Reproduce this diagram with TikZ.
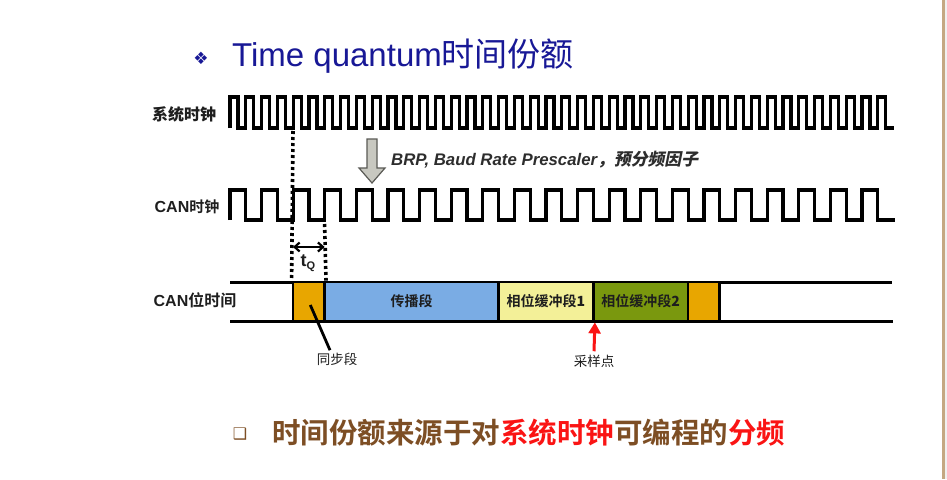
\documentclass[tikz,border=0pt]{standalone}
\usepackage{fontspec}
\setmainfont{Liberation Sans}
\newfontfamily\cjk{Noto Sans CJK SC}[BoldFont={Noto Sans CJK SC Bold}]
\newfontfamily\cjkb{Noto Sans CJK SC Bold}
\newfontfamily\cjksl{Noto Sans CJK SC Bold}[FakeSlant=0.2]
\newfontfamily\symf{DejaVu Sans}
\usetikzlibrary{arrows.meta,calc}

\definecolor{navyC}{RGB}{24,24,150}
\definecolor{inkC}{RGB}{30,30,30}
\definecolor{greyT}{RGB}{45,45,45}
\definecolor{syncC}{RGB}{232,166,0}
\definecolor{propC}{RGB}{122,172,228}
\definecolor{ph1C}{RGB}{243,240,152}
\definecolor{ph2C}{RGB}{122,152,14}
\definecolor{brownC}{RGB}{125,78,36}
\definecolor{redC}{RGB}{250,20,20}
\definecolor{tanC}{RGB}{196,168,130}
\definecolor{arrowFill}{RGB}{200,200,192}
\definecolor{arrowEdge}{RGB}{90,90,85}

\newcommand{\fs}[1]{\fontsize{#1}{#1}\selectfont}

\tikzset{
  clk/.style={line width=3.2pt, line join=miter, draw=black},
  dotline/.style={line width=3.6pt, dash pattern=on 3pt off 3pt},
  rowline/.style={line width=3pt, draw=black},
  seg/.style={draw=black, line width=2.8pt, minimum height=39pt, inner sep=0pt,
              text=inkC, font=\cjkb\fs{14}},
  sidelab/.style={text=inkC, font=\bfseries\fs{16}},
  smalllab/.style={text=inkC, font=\cjk\fs{13.5}},
}

\begin{document}
\begin{tikzpicture}[x=1pt,y=-1pt]
  \useasboundingbox (0,0) rectangle (947,479);
  \fill[white] (0,0) rectangle (947,479);
  % slide edge on the right
  \fill[tanC] (942,0) rectangle (945,479);
  \fill[black!6] (945,0) rectangle (947,479);

  % heading
  \node[text=navyC, font=\symf\fs{17}] (tbullet) at (201,58) {❖};
  \node[anchor=base west, inner sep=0pt, text=navyC, font=\fs{33}] (title) at (232,66)
    {Time quantum{\cjk 时间份额}};

  % row labels
  \node[sidelab] (sysl) at (184,114) {\cjkb 系统时钟};
  \node[sidelab] (canl) at (187,207) {CAN{\cjk\fs{15}时钟}};
  \node[sidelab] (bitl) at (195,300) {CAN{\cjk\fs{16}位时间}};

  % system clock: period 15.8
  \draw[clk] (230,128)
    \foreach \k in {0,...,41} {
      -- ({230+15.8*\k},97) -- ({237.9+15.8*\k},97)
      -- ({237.9+15.8*\k},128) -- ({245.8+15.8*\k},128)
    };

  % CAN clock: period 31.6 (two system clocks)
  \draw[clk] (230,220)
    \foreach \k in {0,...,20} {
      -- ({230+31.6*\k},190) -- ({245.8+31.6*\k},190)
      -- ({245.8+31.6*\k},220) -- ({261.6+31.6*\k},220)
    } -- (895,220);

  % prescaler arrow
  \draw[fill=arrowFill, draw=arrowEdge, line width=1.2pt, line join=miter]
    (367,139) -- (377,139) -- (377,168) -- (385,168) -- (372,183)
    -- (359,168) -- (367,168) -- cycle;
  \node[anchor=west, inner sep=0pt, text=greyT, font=\bfseries\itshape\fs{16.8}] (brp) at (391,160)
    {BRP, Baud Rate Prescaler{\cjksl\fs{16.8}，预分频因子}};

  % bit time row
  \coordinate (rowTL) at (230,282);
  \coordinate (rowTR) at (892,282);
  \coordinate (rowBL) at (230,321);
  \coordinate (rowBR) at (893,321);
  \draw[rowline] (rowTL) -- (rowTR);
  \draw[rowline] (rowBL) -- (rowBR);

  \node[seg, fill=syncC, minimum width=31.6pt] (sync) at (308.8,301.5) {};
  \node[seg, fill=propC, minimum width=173.9pt] (prop) at (411.55,301.5) {传播段};
  \node[seg, fill=ph1C, minimum width=95pt] (ph1) at (546,301.5) {相位缓冲段{\bfseries 1}};
  \node[seg, fill=ph2C, minimum width=94.5pt] (ph2) at (640.75,301.5) {相位缓冲段{\bfseries 2}};
  \node[seg, fill=syncC, minimum width=31.5pt] (sync2) at (703.75,301.5) {};

  % one time quantum
  \coordinate (q1top) at (293,131);
  \coordinate (q2top) at (324.6,224);
  \draw[dotline] (q1top) -- (sync.north west);
  \draw[dotline] (q2top) -- (sync.north east);
  \coordinate (qa) at (293,247);
  \coordinate (qb) at (324.6,247);
  \draw[line width=2.2pt, {Straight Barb[length=5pt,width=9pt]}-{Straight Barb[length=5pt,width=9pt]}] (qa) -- (qb);
  \node[text=inkC, font=\bfseries\fs{18}] (tq) at (308,263) {t\raisebox{-0.3ex}{\fs{11}Q}};

  % sync segment callout
  \node[smalllab] (syncl) at (337,359) {同步段};
  \draw[line width=2.8pt] ($(sync.center)+(1.5,3.5)$) -- ($(syncl.north)+(-7,1)$);

  % sample point
  \node[smalllab] (samp) at (594,361) {采样点};
  \draw[draw=redC, line width=3pt, -{Triangle[length=11pt,width=12pt]}] (samp.north) -- (ph1.south east);

  % closing remark
  \node[text=brownC, font=\symf\fs{16}] (nbullet) at (240,434) {❑};
  \node[anchor=west, inner sep=0pt, font=\cjkb\fs{28.5}] (note) at (272,433)
    {\textcolor{brownC}{时间份额来源于对}\textcolor{redC}{系统时钟}\textcolor{brownC}{可编程的}\textcolor{redC}{分频}};
\end{tikzpicture}
\end{document}
